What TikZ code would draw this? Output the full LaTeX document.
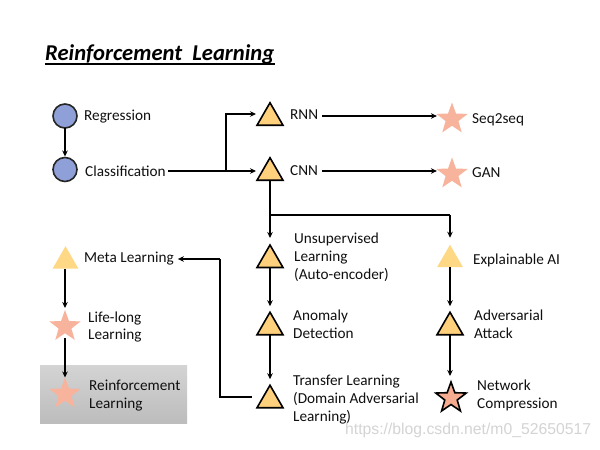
\documentclass[tikz,border=0pt]{standalone}
\usepackage{fontspec}
\setmainfont{Carlito}
\newfontfamily\wmfont{Liberation Sans}
\usetikzlibrary{shapes.geometric,calc,arrows.meta}
\definecolor{trifill}{HTML}{FFD17C}
\definecolor{trilight}{HTML}{FFD885}
\definecolor{starfill}{HTML}{F7B39B}
\definecolor{starfillB}{HTML}{F5AC90}
\definecolor{circfill}{HTML}{8FA0D8}
\definecolor{txt}{HTML}{101010}
\begin{document}
\begin{tikzpicture}[x=1bp,y=-1bp,
  tri/.style={regular polygon, regular polygon sides=3, minimum size=30bp, inner sep=0pt, outer sep=0pt, fill=trifill, draw=black, line width=1.6bp},
  trinb/.style={regular polygon, regular polygon sides=3, minimum size=30bp, inner sep=0pt, outer sep=0pt, fill=trilight},
  starnb/.style={star, star points=5, star point ratio=2.45, minimum size=33bp, inner sep=0pt, outer sep=0pt, fill=starfill},
  starb/.style={star, star points=5, star point ratio=2.45, minimum size=32bp, inner sep=0pt, outer sep=0pt, fill=starfillB, draw=black, line width=1.6bp},
  circ/.style={circle, minimum size=24bp, inner sep=0pt, outer sep=0pt, fill=circfill, draw=black!85, line width=1.6bp},
  lbl/.style={anchor=west, align=left, inner sep=0pt, text=txt, font=\fontsize{15.3}{17.9}\selectfont},
  conn/.style={line width=2bp, black},
  arr/.style={conn, -{Stealth[length=6bp,width=5.5bp]}},
]
\useasboundingbox (0,0) rectangle (600,450);
\fill[white] (0,0) rectangle (600,450);

% title
\node[anchor=base west, inner sep=0pt, font=\fontsize{22.7}{25}\selectfont\bfseries\itshape, text=black] (title) at (45,60.5) {Reinforcement\ \ Learning};
\draw[line width=2.6bp] (title.base west |- 0,64) -- (title.base east |- 0,64);

% gray box
\shade[top color=black!17, bottom color=black!26] (40,365) rectangle (187,423);

% left column
\node[circ] (reg) at (65,116) {};
\node[lbl] (regt) at (84,116.5) {Regression};
\node[circ] (cls) at (65,169.5) {};
\node[lbl] (clst) at (85,171) {Classification};

% RNN / CNN
\node[tri] (rnn) at (270,117.75) {};
\node[lbl] (rnnt) at (290,115) {RNN};
\node[tri] (cnn) at (270,172.75) {};
\node[lbl] (cnnt) at (290,171) {CNN};
\node[starnb] (s2s) at (452,119) {};
\node[lbl] (s2st) at (472,120) {Seq2seq};
\node[starnb] (gan) at (452,174) {};
\node[lbl] (gant) at (472,172.5) {GAN};

% middle column
\node[tri] (uns) at (270,260) {};
\node[lbl] (unst) at (294,257.5) {Unsupervised\\Learning\\(Auto-encoder)};
\node[tri] (ano) at (270,327.25) {};
\node[lbl] (anot) at (293,324.5) {Anomaly\\Detection};
\node[tri] (tra) at (270,400.25) {};
\node[lbl] (trat) at (293,399.5) {Transfer Learning\\(Domain Adversarial\\Learning)};

% right column
\node[trinb] (xai) at (450,259.75) {};
\node[lbl] (xait) at (473,260) {Explainable AI};
\node[tri] (adv) at (450,327.25) {};
\node[lbl] (advt) at (474,324.5) {Adversarial\\Attack};
\node[starb] (net) at (451,398) {};
\node[lbl] (nett) at (477,395.5) {Network\\Compression};

% left lower column
\node[trinb] (meta) at (65.5,261.25) {};
\node[lbl] (metat) at (84,259) {Meta Learning};
\node[starnb] (life) at (65,326.5) {};
\node[lbl] (lifet) at (88,327) {Life-long\\Learning};
\node[starnb] (rl) at (65,394) {};
\node[lbl] (rlt) at (89,395.5) {Reinforcement\\Learning};

% watermark
\node[anchor=west, inner sep=0pt, text=black!17, font=\wmfont\fontsize{15.8}{18}\selectfont] (wm) at (345,430) {https://blog.csdn.net/m0\_52650517};

% coordinates
\coordinate (j1) at (226,171);
\coordinate (rnnW) at (256,114);
\coordinate (cnnW) at (256,171);
\coordinate (j2) at (270,215);
\coordinate (j3) at (450,215);
\coordinate (traW) at (252,397);
\coordinate (j4) at (220,397);
\coordinate (j5) at (220,259);

% connectors
\draw[arr, shorten >=1bp] (reg.south) -- (cls.north);
\draw[conn] ([xshift=2bp]clst.east |- j1) -- (j1);
\draw[arr] (j1) |- (rnnW);
\draw[arr] (j1) -- (cnnW);
\draw[arr, shorten <=4bp, shorten >=6bp] (rnnt.east |- 0,116) -- (s2s.west |- 0,116);
\draw[arr, shorten <=4bp, shorten >=6bp] (cnnt.east |- 0,171) -- (gan.west |- 0,171);
\draw[conn] (cnn.south) -- (j2) -- (j3);
\draw[arr, shorten >=7bp] (j2) -- (uns.north);
\draw[arr, shorten >=7bp] (j3) -- (xai.north);
\draw[arr, shorten >=6bp] (uns.south) -- (ano.north);
\draw[arr, shorten >=6bp] (ano.south) -- (tra.north);
\draw[arr, shorten >=6bp] (xai.south) -- (adv.north);
\draw[arr, shorten >=6bp] (adv.south -| xai.south) -- (net.north -| xai.south);
\draw[conn] (traW) -- (j4) -- (j5);
\draw[arr, shorten >=4bp] (j5) -- (metat.east |- j5);
\draw[arr, shorten >=2bp] (meta.south -| reg.south) -- (life.north -| reg.south);
\draw[arr, shorten <=1bp] ([yshift=-4bp]life.south -| reg.south) -- (rl.north -| reg.south);
\end{tikzpicture}
\end{document}
